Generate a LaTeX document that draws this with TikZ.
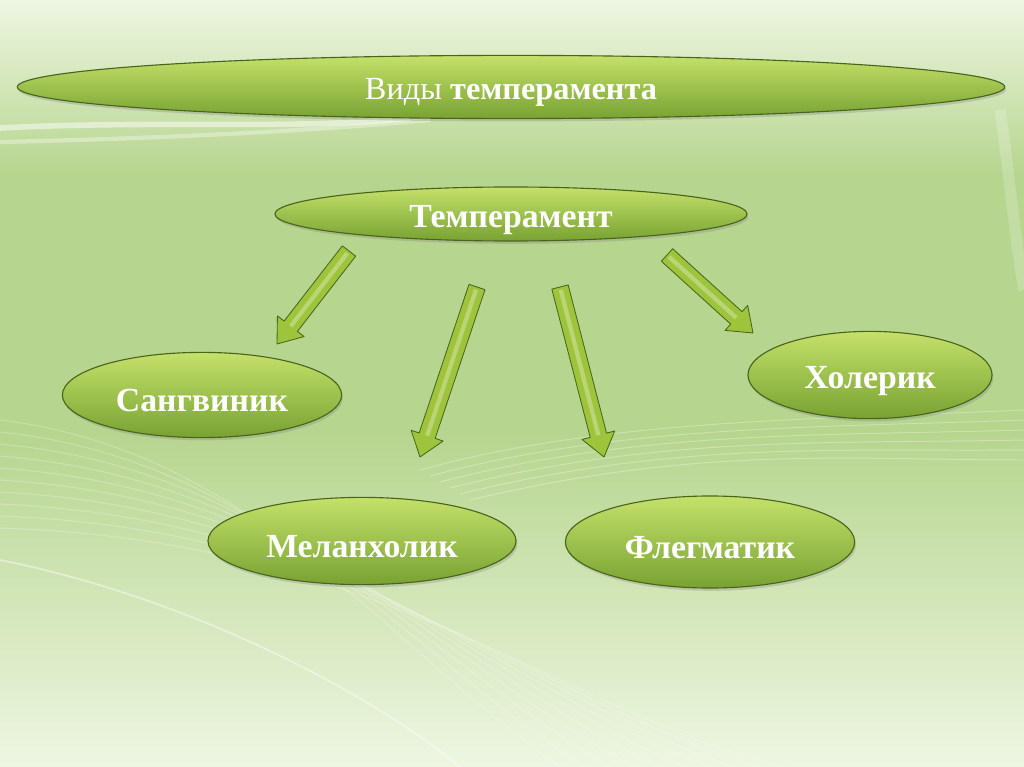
\documentclass[tikz,border=0pt]{standalone}
\usepackage{fontspec}
\setmainfont{Liberation Serif}
\usetikzlibrary{shapes.geometric,calc,shadows}
\definecolor{bggreen}{HTML}{B6D58E}
\definecolor{bglight}{HTML}{EEF6E2}
\definecolor{ovaltop}{HTML}{C4E16A}
\definecolor{ovalbot}{HTML}{78A232}
\definecolor{ovalline}{HTML}{4A651B}
\definecolor{arrowfill}{HTML}{9EC43C}
\newcommand\lowtext[1]{\raisebox{-4pt}[\height][\depth]{#1}}
\begin{document}
\begin{tikzpicture}[x=0.025cm, y=-0.025cm,
  oval/.style={ellipse, draw=ovalline, line width=0.8pt, top color=ovaltop,
    bottom color=ovalbot, inner sep=0pt, text=white,
    font=\fontsize{24}{28}\selectfont\bfseries,
    drop shadow={opacity=0.3, shadow xshift=1pt, shadow yshift=-2pt}},
  blockarrow/.style={draw=ovalline, line width=0.6pt, fill=arrowfill, line join=round}]
  \useasboundingbox (0,0) rectangle (1024,767);
  % background
  \fill[bggreen] (0,0) rectangle (1024,767);
  \shade[top color=bglight, bottom color=bggreen] (0,0) rectangle (1024,175);
  \shade[top color=bggreen, bottom color=bglight] (0,430) rectangle (1024,767);
  \draw[white, opacity=0.5, line width=4pt] (0,128) .. controls (200,118) and (350,135) .. (470,108);
  \draw[white, opacity=0.35, line width=3pt] (0,142) .. controls (180,138) and (320,130) .. (430,120);
  \draw[white, opacity=0.2, line width=8pt] (1000,110) .. controls (1010,180) and (1015,240) .. (1024,290);
  \foreach \i in {0,...,9}
    \draw[white, opacity=0.25, line width=0.7pt]
      (0,{420+\i*12}) .. controls ({250+\i*15},{450+\i*10}) and ({380+\i*20},{640+\i*8}) .. ({560+\i*25},767);
  \foreach \i in {0,...,5}
    \draw[white, opacity=0.3, line width=0.7pt]
      ({420+\i*10},{470+\i*6}) .. controls ({600+\i*20},{420+\i*5}) and ({800+\i*10},{420+\i*8}) .. (1024,{410+\i*10});
  \draw[white, opacity=0.45, line width=1.2pt] (0,560) .. controls (200,600) and (380,700) .. (460,767);

  % ovals
  \node[oval, minimum width=24.68cm, minimum height=1.58cm,
    font=\fontsize{23}{28}\selectfont] (kinds) at (511,87) {\lowtext{Виды \textbf{темперамента}}};
  \node[oval, minimum width=11.8cm, minimum height=1.35cm] (temp) at (511,214) {\lowtext{Темперамент}};
  \node[oval, minimum width=6.98cm, minimum height=2.13cm] (sang) at (202,395) {\lowtext{Сангвиник}};
  \node[oval, minimum width=6.1cm, minimum height=2.18cm] (chol) at (870,375) {\lowtext{Холерик}};
  \node[oval, minimum width=7.7cm, minimum height=2.18cm] (melan) at (362,541) {\lowtext{Меланхолик}};
  \node[oval, minimum width=7.23cm, minimum height=2.3cm] (fleg) at (710,542) {\lowtext{Флегматик}};

  % arrows
  \coordinate (a1) at (349,251); \coordinate (b1) at (277,344);
  \coordinate (a2) at (477,287); \coordinate (b2) at (420,457);
  \coordinate (a3) at (560,287); \coordinate (b3) at (604,457);
  \coordinate (a4) at (667,255); \coordinate (b4) at (753,333);
  \foreach \s/\e in {a1/b1, a2/b2, a3/b3, a4/b4}{
    \coordinate (\s-h) at ($(\e)!16pt!(\s)$);
    \draw[blockarrow] ($(\s)!6pt!90:(\e)$) -- ($(\s-h)!6pt!90:(\e)$)
      -- ($(\s-h)!12pt!90:(\e)$) -- (\e) -- ($(\s-h)!12pt!-90:(\e)$)
      -- ($(\s-h)!6pt!-90:(\e)$) -- ($(\s)!6pt!-90:(\e)$) -- cycle;
    \draw[white, opacity=0.3, line width=3pt] ($(\s)!2pt!(\e)$) -- (\s-h);
  }
\end{tikzpicture}
\end{document}
